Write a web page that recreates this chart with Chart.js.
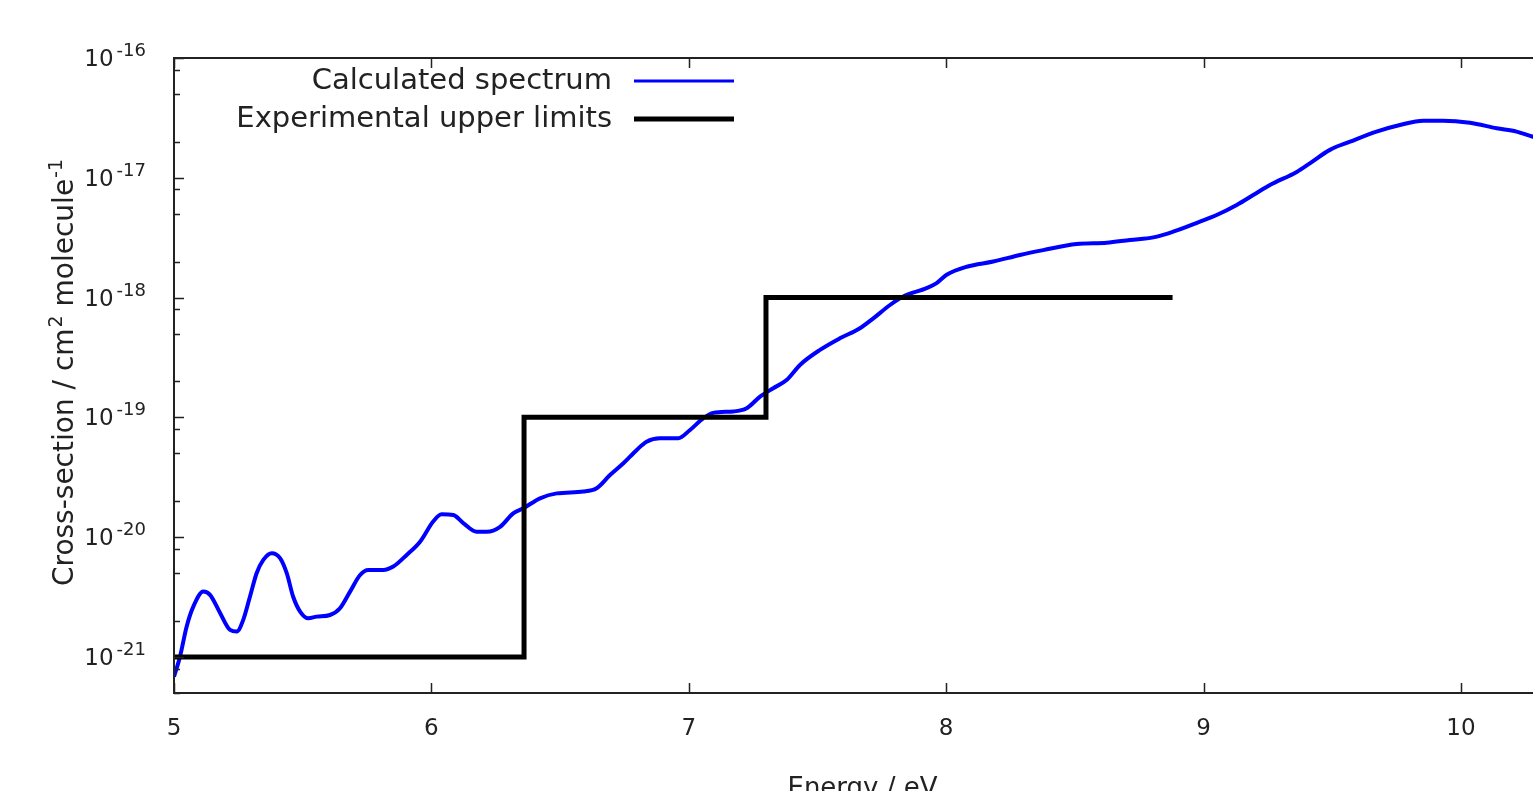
<!DOCTYPE html>
<html>
<head>
<meta charset="utf-8">
<title>Calculated spectrum vs experimental upper limits</title>
<script src="https://cdn.jsdelivr.net/npm/chart.js@4.4.0/dist/chart.umd.min.js"></script>
<style>
    html, body { margin: 0; padding: 0; background: #fff; overflow: hidden; }
    canvas { display: block; }
</style>
</head>
<body>
<canvas id="spectrumChart" width="1560" height="791"></canvas>
<script>
    'use strict';

    // Calculated spectrum (eV, cm^2 molecule^-1)
    var energy = [5.00, 5.023, 5.049, 5.075, 5.114, 5.14, 5.179, 5.218, 5.244, 5.269,
        5.295, 5.321, 5.347, 5.38, 5.412, 5.438, 5.463, 5.49, 5.522, 5.554,
        5.606, 5.645, 5.684, 5.723, 5.755, 5.813, 5.852, 5.904, 5.956, 6.007,
        6.04, 6.085, 6.124, 6.176, 6.215, 6.267, 6.318, 6.357, 6.422, 6.487,
        6.59, 6.642, 6.694, 6.746, 6.798, 6.836, 6.888, 6.959, 7.005, 7.056,
        7.095, 7.173, 7.225, 7.277, 7.328, 7.38, 7.432, 7.51, 7.587, 7.665,
        7.717, 7.782, 7.833, 7.924, 7.963, 8.002, 8.08, 8.183, 8.287, 8.377,
        8.507, 8.624, 8.714, 8.805, 8.882, 8.986, 9.051, 9.129, 9.193, 9.258,
        9.362, 9.413, 9.491, 9.569, 9.672, 9.763, 9.854, 9.931, 10.035, 10.139,
        10.216, 10.28, 10.35];
    var crossSection = [6.84e-22, 1.00e-21, 1.79e-21, 2.63e-21, 3.51e-21, 3.30e-21, 2.33e-21, 1.68e-21, 1.63e-21, 2.04e-21,
        3.18e-21, 5.00e-21, 6.46e-21, 7.34e-21, 6.67e-21, 5.00e-21, 3.18e-21, 2.39e-21, 2.10e-21, 2.17e-21,
        2.24e-21, 2.55e-21, 3.51e-21, 4.83e-21, 5.32e-21, 5.32e-21, 5.68e-21, 7.10e-21, 9.16e-21, 1.35e-20,
        1.55e-20, 1.53e-20, 1.31e-20, 1.11e-20, 1.11e-20, 1.22e-20, 1.58e-20, 1.74e-20, 2.11e-20, 2.32e-20,
        2.40e-20, 2.56e-20, 3.30e-20, 4.14e-20, 5.35e-20, 6.27e-20, 6.70e-20, 6.70e-20, 7.85e-20, 9.82e-20,
        1.09e-19, 1.12e-19, 1.19e-19, 1.49e-19, 1.75e-19, 2.05e-19, 2.74e-19, 3.66e-19, 4.57e-19, 5.55e-19,
        6.71e-19, 8.67e-19, 1.02e-18, 1.20e-18, 1.32e-18, 1.55e-18, 1.81e-18, 2.00e-18, 2.27e-18, 2.49e-18,
        2.80e-18, 2.87e-18, 3.03e-18, 3.18e-18, 3.55e-18, 4.31e-18, 4.89e-18, 5.93e-18, 7.18e-18, 8.71e-18,
        1.12e-17, 1.32e-17, 1.71e-17, 2.00e-17, 2.43e-17, 2.76e-17, 3.00e-17, 3.00e-17, 2.88e-17, 2.59e-17,
        2.43e-17, 2.20e-17, 2.00e-17];

    // Experimental upper limits (step edges)
    var limitEnergy = [5.0, 6.36, 7.3, 8.87];
    var limitValue = [1e-21, 1e-19, 1e-18, 1e-18];

    var seriesNames = ['Calculated spectrum', 'Experimental upper limits'];
    var seriesColors = ['#0000ff', '#000000'];

    var xTicks = [5, 6, 7, 8, 9, 10];
    var yExponents = [-21, -20, -19, -18, -17, -16];
    var yMinorSteps = [2, 5, 8];

    var FONT = '"DejaVu Sans", sans-serif';
    var TEXT = '#222';

    function toPoints(xs, ys) {
        return xs.map(function (v, i) { return { x: v, y: ys[i] }; });
    }

    // draws text pieces left to right, superscripts raised and smaller
    function drawParts(ctx, parts, x0, y0) {
        var x = x0;
        parts.forEach(function (p) {
            ctx.font = p.size + 'px ' + FONT;
            ctx.fillText(p.text, x, y0 - (p.raise || 0));
            x += ctx.measureText(p.text).width + (p.gap || 0);
        });
    }

    function partsWidth(ctx, parts) {
        var w = 0;
        parts.forEach(function (p) {
            ctx.font = p.size + 'px ' + FONT;
            w += ctx.measureText(p.text).width + (p.gap || 0);
        });
        return w;
    }

    // gnuplot-like frame, inward ticks, y labels, axis titles and key
    var gnuplotBox = {
        id: 'gnuplotBox',
        afterDatasetsDraw: function (chart) {
            var ctx = chart.ctx;
            var area = chart.chartArea;
            var xs = chart.scales.x;
            var ys = chart.scales.y;

            ctx.save();
            ctx.strokeStyle = '#222';
            ctx.lineWidth = 1.5;
            ctx.beginPath();
            xTicks.forEach(function (v) {
                var px = Math.round(xs.getPixelForValue(v)) + 0.5;
                ctx.moveTo(px, area.bottom); ctx.lineTo(px, area.bottom - 10);
                ctx.moveTo(px, area.top); ctx.lineTo(px, area.top + 10);
            });
            yExponents.forEach(function (e) {
                var py = Math.round(ys.getPixelForValue(Math.pow(10, e))) + 0.5;
                ctx.moveTo(area.left, py); ctx.lineTo(area.left + 10, py);
                ctx.moveTo(area.right, py); ctx.lineTo(area.right - 10, py);
                yMinorSteps.forEach(function (m) {
                    var v = m * Math.pow(10, e - 1);
                    if (v < ys.min || v > ys.max) return;
                    var pm = Math.round(ys.getPixelForValue(v)) + 0.5;
                    ctx.moveTo(area.left, pm); ctx.lineTo(area.left + 6, pm);
                    ctx.moveTo(area.right, pm); ctx.lineTo(area.right - 6, pm);
                });
            });
            ctx.stroke();

            ctx.lineWidth = 2;
            ctx.strokeRect(area.left, area.top, area.right - area.left, area.bottom - area.top);

            // y tick labels 10^n
            ctx.fillStyle = TEXT;
            ctx.textBaseline = 'alphabetic';
            ctx.textAlign = 'left';
            yExponents.forEach(function (e) {
                var py = ys.getPixelForValue(Math.pow(10, e));
                ctx.font = '18px ' + FONT;
                var supW = ctx.measureText(String(e)).width;
                ctx.fillText(String(e), area.left - 28 - supW, py - 2);
                ctx.font = '23px ' + FONT;
                ctx.textAlign = 'right';
                ctx.fillText('10', area.left - 28 - supW - 3, py + 8);
                ctx.textAlign = 'left';
            });

            // y title
            var yTitle = [
                { text: 'Cross-section / cm', size: 28, gap: 1 },
                { text: '2', size: 19, raise: 11 },
                { text: ' molecule', size: 28, gap: 1 },
                { text: '-1', size: 19, raise: 11 }
            ];
            ctx.save();
            ctx.translate(73, (area.top + area.bottom) / 2 - 3);
            ctx.rotate(-Math.PI / 2);
            drawParts(ctx, yTitle, -partsWidth(ctx, yTitle) / 2, 0);
            ctx.restore();

            // x title
            ctx.font = '26px ' + FONT;
            ctx.textAlign = 'center';
            ctx.fillText('Energy / eV', (area.left + area.right) / 2, 796);

            // key
            ctx.font = '29px ' + FONT;
            ctx.textAlign = 'right';
            var widths = [3, 5];
            seriesNames.forEach(function (name, i) {
                var base = 89 + i * 38;
                ctx.fillStyle = TEXT;
                ctx.fillText(name, 612, base);
                ctx.strokeStyle = seriesColors[i];
                ctx.lineWidth = widths[i];
                ctx.beginPath();
                ctx.moveTo(634, base - 8);
                ctx.lineTo(734, base - 8);
                ctx.stroke();
            });
            ctx.restore();
        }
    };

    var ctx = document.getElementById('spectrumChart').getContext('2d');
    var spectrumChart = new Chart(ctx, {
        type: 'line',
        data: {
            datasets: [{
                label: seriesNames[0],
                data: toPoints(energy, crossSection),
                borderColor: seriesColors[0],
                borderWidth: 4,
                pointRadius: 0,
                cubicInterpolationMode: 'monotone',
                order: 2
            }, {
                label: seriesNames[1],
                data: toPoints(limitEnergy, limitValue),
                borderColor: seriesColors[1],
                borderWidth: 5,
                borderCapStyle: 'square',
                pointRadius: 0,
                stepped: 'before',
                order: 1
            }]
        },
        options: {
            responsive: false,
            animation: false,
            layout: { padding: { left: 0, top: 58, right: 9, bottom: 0 } },
            plugins: {
                legend: { display: false },
                tooltip: { enabled: false }
            },
            scales: {
                x: {
                    type: 'linear',
                    min: 5,
                    max: 10.35,
                    grid: { display: false, drawTicks: false },
                    border: { display: false },
                    ticks: {
                        font: { family: 'DejaVu Sans', size: 23 },
                        color: TEXT,
                        padding: 22,
                        maxRotation: 0
                    },
                    afterBuildTicks: function (scale) {
                        scale.ticks = xTicks.map(function (v) { return { value: v }; });
                    },
                    afterFit: function (scale) { scale.height = 98; }
                },
                y: {
                    type: 'logarithmic',
                    min: 5e-22,
                    max: 1e-16,
                    grid: { display: false, drawTicks: false },
                    border: { display: false },
                    ticks: { display: false },
                    afterFit: function (scale) { scale.width = 174; }
                }
            }
        },
        plugins: [gnuplotBox]
    });
</script>
</body>
</html>
